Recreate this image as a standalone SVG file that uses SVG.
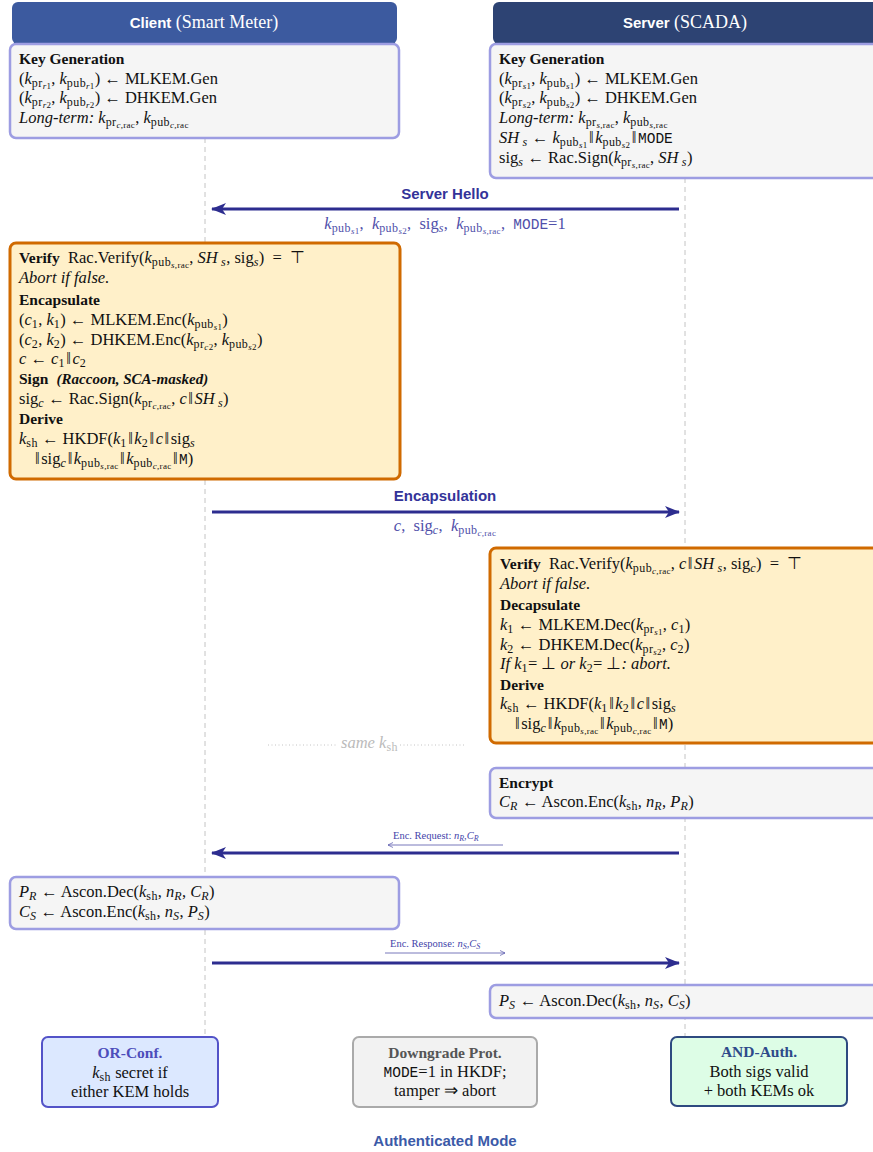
<svg xmlns="http://www.w3.org/2000/svg" width="873" height="1152" viewBox="0 0 873 1152">
<style>
.t{font-family:"Liberation Serif",serif;font-size:16.5px;fill:#111}
.i{font-style:italic}
.b{font-weight:bold;font-size:15.5px}
.s{font-size:12px;baseline-shift:-3px;letter-spacing:0.4px}
.ss{font-size:9px;baseline-shift:-2px;letter-spacing:0.3px}
.m{font-family:"Liberation Mono",monospace;font-size:14.5px;letter-spacing:0}
.dv{letter-spacing:1.5px}
.hd{font-family:"Liberation Sans",sans-serif;font-weight:bold;font-size:15px;fill:#fff}
.hds{font-family:"Liberation Serif",serif;font-size:18px;fill:#fff}
.lbl{font-family:"Liberation Sans",sans-serif;font-weight:bold;font-size:15px;fill:#333399}
.msg{font-family:"Liberation Serif",serif;font-size:16.5px;fill:#5050aa}
.small{font-family:"Liberation Serif",serif;font-size:10.5px;fill:#4444aa}
.gbox{fill:#f5f5f5;stroke:#9d9de2;stroke-width:2.5}
.ybox{fill:#fff0c9;stroke:#d06a00;stroke-width:3}
.life{stroke:#c4c4c4;stroke-width:1;stroke-dasharray:5,4;fill:none}
.arr{stroke:#2d2d8f;stroke-width:3;fill:none;marker-end:url(#ah)}
.sarr{stroke:#5555aa;stroke-width:0.8;fill:none;marker-end:url(#sah)}
</style>
<defs>
<marker id="ah" markerUnits="userSpaceOnUse" markerWidth="15" markerHeight="12" refX="14" refY="6" orient="auto">
<path d="M0,0 L15,6 L0,12 L4,6 z" fill="#2d2d8f"/>
</marker>
<marker id="sah" markerUnits="userSpaceOnUse" markerWidth="6" markerHeight="6" refX="5" refY="3" orient="auto">
<path d="M0,0.5 L5,3 L0,5.5" fill="none" stroke="#5555aa" stroke-width="0.7"/>
</marker>
</defs>
<g id="lifelines">
<line class="life" x1="205" y1="138" x2="205" y2="1036"/>
<line class="life" x1="685" y1="178" x2="685" y2="1036"/>
</g>
<g id="client-header">
<rect x="12" y="2" width="385" height="42" rx="6" fill="#3c5a9f"/>
<text x="204" y="28" text-anchor="middle"><tspan class="hd">Client</tspan><tspan class="hds"> (Smart Meter)</tspan></text>
</g>
<g id="server-header">
<rect x="493" y="2" width="390" height="42" rx="6" fill="#2d4373"/>
<text x="685" y="28" text-anchor="middle"><tspan class="hd">Server</tspan><tspan class="hds"> (SCADA)</tspan></text>
</g>
<g id="client-keygen">
<rect class="gbox" x="10" y="44" width="389" height="94" rx="6"/>
<text class="t b" x="19" y="64">Key Generation</text>
<text class="t" x="19" y="84">(<tspan class="i">k</tspan><tspan class="s">pr<tspan class="ss"><tspan class="i">r</tspan>1</tspan></tspan>, <tspan class="i">k</tspan><tspan class="s">pub<tspan class="ss"><tspan class="i">r</tspan>1</tspan></tspan>) ← MLKEM.Gen</text>
<text class="t" x="19" y="103">(<tspan class="i">k</tspan><tspan class="s">pr<tspan class="ss"><tspan class="i">r</tspan>2</tspan></tspan>, <tspan class="i">k</tspan><tspan class="s">pub<tspan class="ss"><tspan class="i">r</tspan>2</tspan></tspan>) ← DHKEM.Gen</text>
<text class="t" x="19" y="123"><tspan class="i">Long-term:</tspan> <tspan class="i">k</tspan><tspan class="s">pr<tspan class="ss"><tspan class="i">c</tspan>,rac</tspan></tspan>, <tspan class="i">k</tspan><tspan class="s">pub<tspan class="ss"><tspan class="i">c</tspan>,rac</tspan></tspan></text>
</g>
<g id="server-keygen">
<rect class="gbox" x="490" y="44" width="395" height="134" rx="6"/>
<text class="t b" x="499" y="64">Key Generation</text>
<text class="t" x="499" y="84">(<tspan class="i">k</tspan><tspan class="s">pr<tspan class="ss"><tspan class="i">s</tspan>1</tspan></tspan>, <tspan class="i">k</tspan><tspan class="s">pub<tspan class="ss"><tspan class="i">s</tspan>1</tspan></tspan>) ← MLKEM.Gen</text>
<text class="t" x="499" y="103">(<tspan class="i">k</tspan><tspan class="s">pr<tspan class="ss"><tspan class="i">s</tspan>2</tspan></tspan>, <tspan class="i">k</tspan><tspan class="s">pub<tspan class="ss"><tspan class="i">s</tspan>2</tspan></tspan>) ← DHKEM.Gen</text>
<text class="t" x="499" y="123"><tspan class="i">Long-term:</tspan> <tspan class="i">k</tspan><tspan class="s">pr<tspan class="ss"><tspan class="i">s</tspan>,rac</tspan></tspan>, <tspan class="i">k</tspan><tspan class="s">pub<tspan class="ss"><tspan class="i">s</tspan>,rac</tspan></tspan></text>
<text class="t" x="499" y="143"><tspan class="i">SH</tspan><tspan class="s i">&#160;s</tspan> ← <tspan class="i">k</tspan><tspan class="s">pub<tspan class="ss"><tspan class="i">s</tspan>1</tspan></tspan><tspan class="dv" dx="1.5">‖</tspan><tspan class="i">k</tspan><tspan class="s">pub<tspan class="ss"><tspan class="i">s</tspan>2</tspan></tspan><tspan class="dv" dx="1.5">‖</tspan><tspan class="m">MODE</tspan></text>
<text class="t" x="499" y="163">sig<tspan class="s i">s</tspan> ← Rac.Sign(<tspan class="i">k</tspan><tspan class="s">pr<tspan class="ss"><tspan class="i">s</tspan>,rac</tspan></tspan>, <tspan class="i">SH</tspan><tspan class="s i">&#160;s</tspan>)</text>
</g>
<g id="client-verify">
<rect class="ybox" x="10" y="243" width="390" height="236" rx="6"/>
<text class="t" x="19" y="263"><tspan class="b">Verify</tspan>&#160; Rac.Verify(<tspan class="i">k</tspan><tspan class="s">pub<tspan class="ss"><tspan class="i">s</tspan>,rac</tspan></tspan>, <tspan class="i">SH</tspan><tspan class="s i">&#160;s</tspan>, sig<tspan class="s i">s</tspan>)&#160; =&#160; ⊤</text>
<text class="t i" x="19" y="283">Abort if false.</text>
<text class="t b" x="19" y="305">Encapsulate</text>
<text class="t" x="19" y="325">(<tspan class="i">c</tspan><tspan class="s">1</tspan>, <tspan class="i">k</tspan><tspan class="s">1</tspan>) ← MLKEM.Enc(<tspan class="i">k</tspan><tspan class="s">pub<tspan class="ss"><tspan class="i">s</tspan>1</tspan></tspan>)</text>
<text class="t" x="19" y="345">(<tspan class="i">c</tspan><tspan class="s">2</tspan>, <tspan class="i">k</tspan><tspan class="s">2</tspan>) ← DHKEM.Enc(<tspan class="i">k</tspan><tspan class="s">pr<tspan class="ss"><tspan class="i">c</tspan>2</tspan></tspan>, <tspan class="i">k</tspan><tspan class="s">pub<tspan class="ss"><tspan class="i">s</tspan>2</tspan></tspan>)</text>
<text class="t" x="19" y="364"><tspan class="i">c</tspan> ← <tspan class="i">c</tspan><tspan class="s">1</tspan><tspan class="dv" dx="1.5">‖</tspan><tspan class="i">c</tspan><tspan class="s">2</tspan></text>
<text class="t" x="19" y="384"><tspan class="b">Sign</tspan>&#160; <tspan class="i b" style="font-size:15px">(Raccoon, SCA-masked)</tspan></text>
<text class="t" x="19" y="404">sig<tspan class="s i">c</tspan> ← Rac.Sign(<tspan class="i">k</tspan><tspan class="s">pr<tspan class="ss"><tspan class="i">c</tspan>,rac</tspan></tspan>, <tspan class="i">c</tspan><tspan class="dv" dx="1.5">‖</tspan><tspan class="i">SH</tspan><tspan class="s i">&#160;s</tspan>)</text>
<text class="t b" x="19" y="424">Derive</text>
<text class="t" x="19" y="444"><tspan class="i">k</tspan><tspan class="s">sh</tspan> ← HKDF(<tspan class="i">k</tspan><tspan class="s">1</tspan><tspan class="dv" dx="1.5">‖</tspan><tspan class="i">k</tspan><tspan class="s">2</tspan><tspan class="dv" dx="1.5">‖</tspan><tspan class="i">c</tspan><tspan class="dv" dx="1.5">‖</tspan>sig<tspan class="s i">s</tspan></text>
<text class="t" x="35" y="464"><tspan class="dv">‖</tspan>sig<tspan class="s i">c</tspan><tspan class="dv" dx="1.5">‖</tspan><tspan class="i">k</tspan><tspan class="s">pub<tspan class="ss"><tspan class="i">s</tspan>,rac</tspan></tspan><tspan class="dv" dx="1.5">‖</tspan><tspan class="i">k</tspan><tspan class="s">pub<tspan class="ss"><tspan class="i">c</tspan>,rac</tspan></tspan><tspan class="dv" dx="1.5">‖</tspan><tspan class="m">M</tspan>)</text>
</g>
<g id="server-verify">
<rect class="ybox" x="490" y="548" width="395" height="195" rx="6"/>
<text class="t" x="500" y="569"><tspan class="b">Verify</tspan>&#160; Rac.Verify(<tspan class="i">k</tspan><tspan class="s">pub<tspan class="ss"><tspan class="i">c</tspan>,rac</tspan></tspan>, <tspan class="i">c</tspan><tspan class="dv" dx="1.5">‖</tspan><tspan class="i">SH</tspan><tspan class="s i">&#160;s</tspan>, sig<tspan class="s i">c</tspan>)&#160; =&#160; ⊤</text>
<text class="t i" x="500" y="589">Abort if false.</text>
<text class="t b" x="500" y="610">Decapsulate</text>
<text class="t" x="500" y="630"><tspan class="i">k</tspan><tspan class="s">1</tspan> ← MLKEM.Dec(<tspan class="i">k</tspan><tspan class="s">pr<tspan class="ss"><tspan class="i">s</tspan>1</tspan></tspan>, <tspan class="i">c</tspan><tspan class="s">1</tspan>)</text>
<text class="t" x="500" y="650"><tspan class="i">k</tspan><tspan class="s">2</tspan> ← DHKEM.Dec(<tspan class="i">k</tspan><tspan class="s">pr<tspan class="ss"><tspan class="i">s</tspan>2</tspan></tspan>, <tspan class="i">c</tspan><tspan class="s">2</tspan>)</text>
<text class="t i" x="500" y="669">If <tspan>k</tspan><tspan class="s" style="font-style:normal">1</tspan><tspan style="font-style:normal">= ⊥</tspan> or <tspan>k</tspan><tspan class="s" style="font-style:normal">2</tspan><tspan style="font-style:normal">= ⊥</tspan>: abort.</text>
<text class="t b" x="500" y="690">Derive</text>
<text class="t" x="500" y="709"><tspan class="i">k</tspan><tspan class="s">sh</tspan> ← HKDF(<tspan class="i">k</tspan><tspan class="s">1</tspan><tspan class="dv" dx="1.5">‖</tspan><tspan class="i">k</tspan><tspan class="s">2</tspan><tspan class="dv" dx="1.5">‖</tspan><tspan class="i">c</tspan><tspan class="dv" dx="1.5">‖</tspan>sig<tspan class="s i">s</tspan></text>
<text class="t" x="515" y="729"><tspan class="dv">‖</tspan>sig<tspan class="s i">c</tspan><tspan class="dv" dx="1.5">‖</tspan><tspan class="i">k</tspan><tspan class="s">pub<tspan class="ss"><tspan class="i">s</tspan>,rac</tspan></tspan><tspan class="dv" dx="1.5">‖</tspan><tspan class="i">k</tspan><tspan class="s">pub<tspan class="ss"><tspan class="i">c</tspan>,rac</tspan></tspan><tspan class="dv" dx="1.5">‖</tspan><tspan class="m">M</tspan>)</text>
</g>
<g id="same-ksh">
<line x1="268" y1="745" x2="337" y2="745" stroke="#c4c4c4" stroke-width="1" stroke-dasharray="1,2.5"/>
<line x1="400" y1="745" x2="466" y2="745" stroke="#c4c4c4" stroke-width="1" stroke-dasharray="1,2.5"/>
<text class="t" x="341" y="748" style="fill:#bbbbbb"><tspan class="i">same </tspan><tspan class="i">k</tspan><tspan class="s">sh</tspan></text>
</g>
<g id="server-encrypt">
<rect class="gbox" x="490" y="768" width="395" height="50" rx="6"/>
<text class="t b" x="499" y="788">Encrypt</text>
<text class="t" x="499" y="807"><tspan class="i">C</tspan><tspan class="s i">R</tspan> ← Ascon.Enc(<tspan class="i">k</tspan><tspan class="s">sh</tspan>, <tspan class="i">n</tspan><tspan class="s i">R</tspan>, <tspan class="i">P</tspan><tspan class="s i">R</tspan>)</text>
</g>
<g id="client-decrypt">
<rect class="gbox" x="10" y="877" width="389" height="52" rx="6"/>
<text class="t" x="19" y="897"><tspan class="i">P</tspan><tspan class="s i">R</tspan> ← Ascon.Dec(<tspan class="i">k</tspan><tspan class="s">sh</tspan>, <tspan class="i">n</tspan><tspan class="s i">R</tspan>, <tspan class="i">C</tspan><tspan class="s i">R</tspan>)</text>
<text class="t" x="19" y="917"><tspan class="i">C</tspan><tspan class="s i">S</tspan> ← Ascon.Enc(<tspan class="i">k</tspan><tspan class="s">sh</tspan>, <tspan class="i">n</tspan><tspan class="s i">S</tspan>, <tspan class="i">P</tspan><tspan class="s i">S</tspan>)</text>
</g>
<g id="server-decrypt">
<rect class="gbox" x="490" y="985" width="395" height="33" rx="6"/>
<text class="t" x="499" y="1006"><tspan class="i">P</tspan><tspan class="s i">S</tspan> ← Ascon.Dec(<tspan class="i">k</tspan><tspan class="s">sh</tspan>, <tspan class="i">n</tspan><tspan class="s i">S</tspan>, <tspan class="i">C</tspan><tspan class="s i">S</tspan>)</text>
</g>
<g id="connectors">
<line class="arr" x1="679" y1="209" x2="212" y2="209"/>
<line class="arr" x1="212" y1="512" x2="679" y2="512"/>
<line class="arr" x1="679" y1="853" x2="212" y2="853"/>
<line class="arr" x1="212" y1="963" x2="679" y2="963"/>
<line class="sarr" x1="503" y1="845" x2="388" y2="845"/>
<line class="sarr" x1="385" y1="953" x2="505" y2="953"/>
</g>
<g id="msg-labels">
<text class="lbl" x="445" y="199" text-anchor="middle">Server Hello</text>
<text class="msg" x="445" y="229" text-anchor="middle"><tspan class="i">k</tspan><tspan class="s">pub<tspan class="ss"><tspan class="i">s</tspan>1</tspan></tspan>,&#160; <tspan class="i">k</tspan><tspan class="s">pub<tspan class="ss"><tspan class="i">s</tspan>2</tspan></tspan>,&#160; sig<tspan class="s i">s</tspan>,&#160; <tspan class="i">k</tspan><tspan class="s">pub<tspan class="ss"><tspan class="i">s</tspan>,rac</tspan></tspan>,&#160; <tspan class="m">MODE</tspan>=1</text>
<text class="lbl" x="445" y="501" text-anchor="middle">Encapsulation</text>
<text class="msg" x="445" y="531" text-anchor="middle"><tspan class="i">c</tspan>,&#160; sig<tspan class="s i">c</tspan>,&#160; <tspan class="i">k</tspan><tspan class="s">pub<tspan class="ss"><tspan class="i">c</tspan>,rac</tspan></tspan></text>
<text class="small" x="393" y="839">Enc. Request: <tspan class="i">n</tspan><tspan class="i" style="font-size:8px;baseline-shift:-2px">R</tspan>,<tspan class="i">C</tspan><tspan class="i" style="font-size:8px;baseline-shift:-2px">R</tspan></text>
<text class="small" x="390" y="947">Enc. Response: <tspan class="i">n</tspan><tspan class="i" style="font-size:8px;baseline-shift:-2px">S</tspan>,<tspan class="i">C</tspan><tspan class="i" style="font-size:8px;baseline-shift:-2px">S</tspan></text>
</g>
<g id="or-conf">
<rect x="42" y="1037" width="176" height="70" rx="6" fill="#dce8ff" stroke="#5353c8" stroke-width="2"/>
<text class="t b" x="130" y="1058" text-anchor="middle" style="fill:#4d4dbb">OR-Conf.</text>
<text class="t" x="130" y="1078" text-anchor="middle"><tspan class="i">k</tspan><tspan class="s">sh</tspan> secret if</text>
<text class="t" x="130" y="1097" text-anchor="middle">either KEM holds</text>
</g>
<g id="downgrade">
<rect x="353" y="1037" width="184" height="70" rx="6" fill="#f2f2f2" stroke="#aaaaaa" stroke-width="2"/>
<text class="t b" x="445" y="1058" text-anchor="middle" style="fill:#555555">Downgrade Prot.</text>
<text class="t" x="445" y="1077" text-anchor="middle"><tspan class="m">MODE</tspan>=1 in HKDF;</text>
<text class="t" x="445" y="1096" text-anchor="middle">tamper ⇒ abort</text>
</g>
<g id="and-auth">
<rect x="671" y="1037" width="176" height="69" rx="6" fill="#ddfde6" stroke="#2e4a80" stroke-width="2"/>
<text class="t b" x="759" y="1057" text-anchor="middle" style="fill:#2e4a8a">AND-Auth.</text>
<text class="t" x="759" y="1077" text-anchor="middle">Both sigs valid</text>
<text class="t" x="759" y="1096" text-anchor="middle">+ both KEMs ok</text>
</g>
<text id="title" class="lbl" x="445" y="1146" text-anchor="middle" style="fill:#3b5aa8">Authenticated Mode</text>
</svg>
